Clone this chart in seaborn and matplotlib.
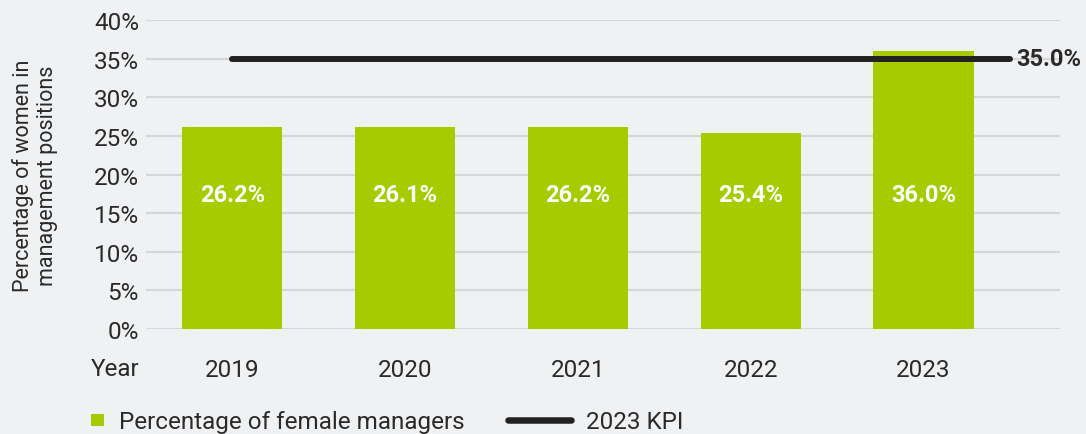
import matplotlib
matplotlib.use("Agg")
import matplotlib.pyplot as plt
import seaborn as sns
import pandas as pd
from matplotlib.patches import Patch, Rectangle
from matplotlib.lines import Line2D
from matplotlib.legend_handler import HandlerPatch

years = ["2019", "2020", "2021", "2022", "2023"]
female_managers_pct = [26.2, 26.1, 26.2, 25.4, 36.0]
kpi_2023 = 35.0
y_ticks = [0, 5, 10, 15, 20, 25, 30, 35, 40]

BG = "#f0f1f3"
GREEN = "#a6cc00"
DARK = "#222222"
TEXT = "#2a2a2a"
FS = 17.5

sns.set_theme(style="white")
plt.rcParams["font.family"] = ["Roboto", "DejaVu Sans"]

df = pd.DataFrame({"Year": years, "Share": female_managers_pct})

fig = plt.figure(figsize=(10.86, 4.35), dpi=100, facecolor=BG)
ax = fig.add_axes([0.1344, 0.2414, 0.8416, 0.7103])
ax.set_facecolor(BG)

sns.barplot(data=df, x="Year", y="Share", color=GREEN, saturation=1,
            width=0.58, linewidth=0, ax=ax, zorder=2)

# horizontal gridlines
for t in y_ticks:
    ax.axhline(t, color="#d5d6d8", lw=1.6, zorder=1)

# KPI target line
ax.hlines(kpi_2023, xmin=0, xmax=len(years) - 0.5, color=DARK, lw=4.3,
          capstyle="round", zorder=3)
ax.text(len(years) - 0.46, kpi_2023, f"{kpi_2023:.1f}%", ha="left",
        va="center", fontsize=17, fontweight="bold", color=TEXT)

# value labels inside bars
for i, v in enumerate(female_managers_pct):
    ax.text(i, 17.4, f"{v:.1f}%", ha="center", va="center", fontsize=17,
            fontweight="bold", color="white", zorder=4)

ax.set_xlim(-0.5, 4.79)
ax.set_ylim(0, 40)
ax.set_yticks(y_ticks)
ax.set_yticklabels([f"{t}%" for t in y_ticks])
ax.tick_params(axis="y", length=0, pad=5, labelsize=FS, labelcolor=TEXT)
ax.tick_params(axis="x", length=0, pad=21, labelsize=FS, labelcolor=TEXT)
ax.set_xlabel("")
ax.set_ylabel("Percentage of women in\nmanagement positions", fontsize=15.5,
              color=TEXT, labelpad=26, linespacing=1.15)
for s in ax.spines.values():
    s.set_visible(False)

fig.text(139 / 1086, 1 - 369 / 435, "Year", ha="right", va="center",
         fontsize=FS, color=TEXT)


def square_patch(legend, orig_handle, xdescent, ydescent, width, height, fontsize):
    side = 0.53 * fontsize
    return Rectangle((xdescent + width - side, ydescent + (height - side) / 2),
                     side, side)


handles = [
    Patch(facecolor=GREEN, edgecolor="none", label="Percentage of female managers"),
    Line2D([0], [0], color=DARK, lw=4.7, solid_capstyle="round", label="2023 KPI"),
]
fig.legend(handles=handles, loc="center left",
           bbox_to_anchor=(19 / 1086, 1 - 423 / 435), ncol=2, frameon=False,
           fontsize=FS, handlelength=2.6, columnspacing=1.8,
           handletextpad=0.6, labelcolor=TEXT,
           handler_map={Patch: HandlerPatch(patch_func=square_patch)})

fig.savefig("out.png", dpi=100, facecolor=BG)
